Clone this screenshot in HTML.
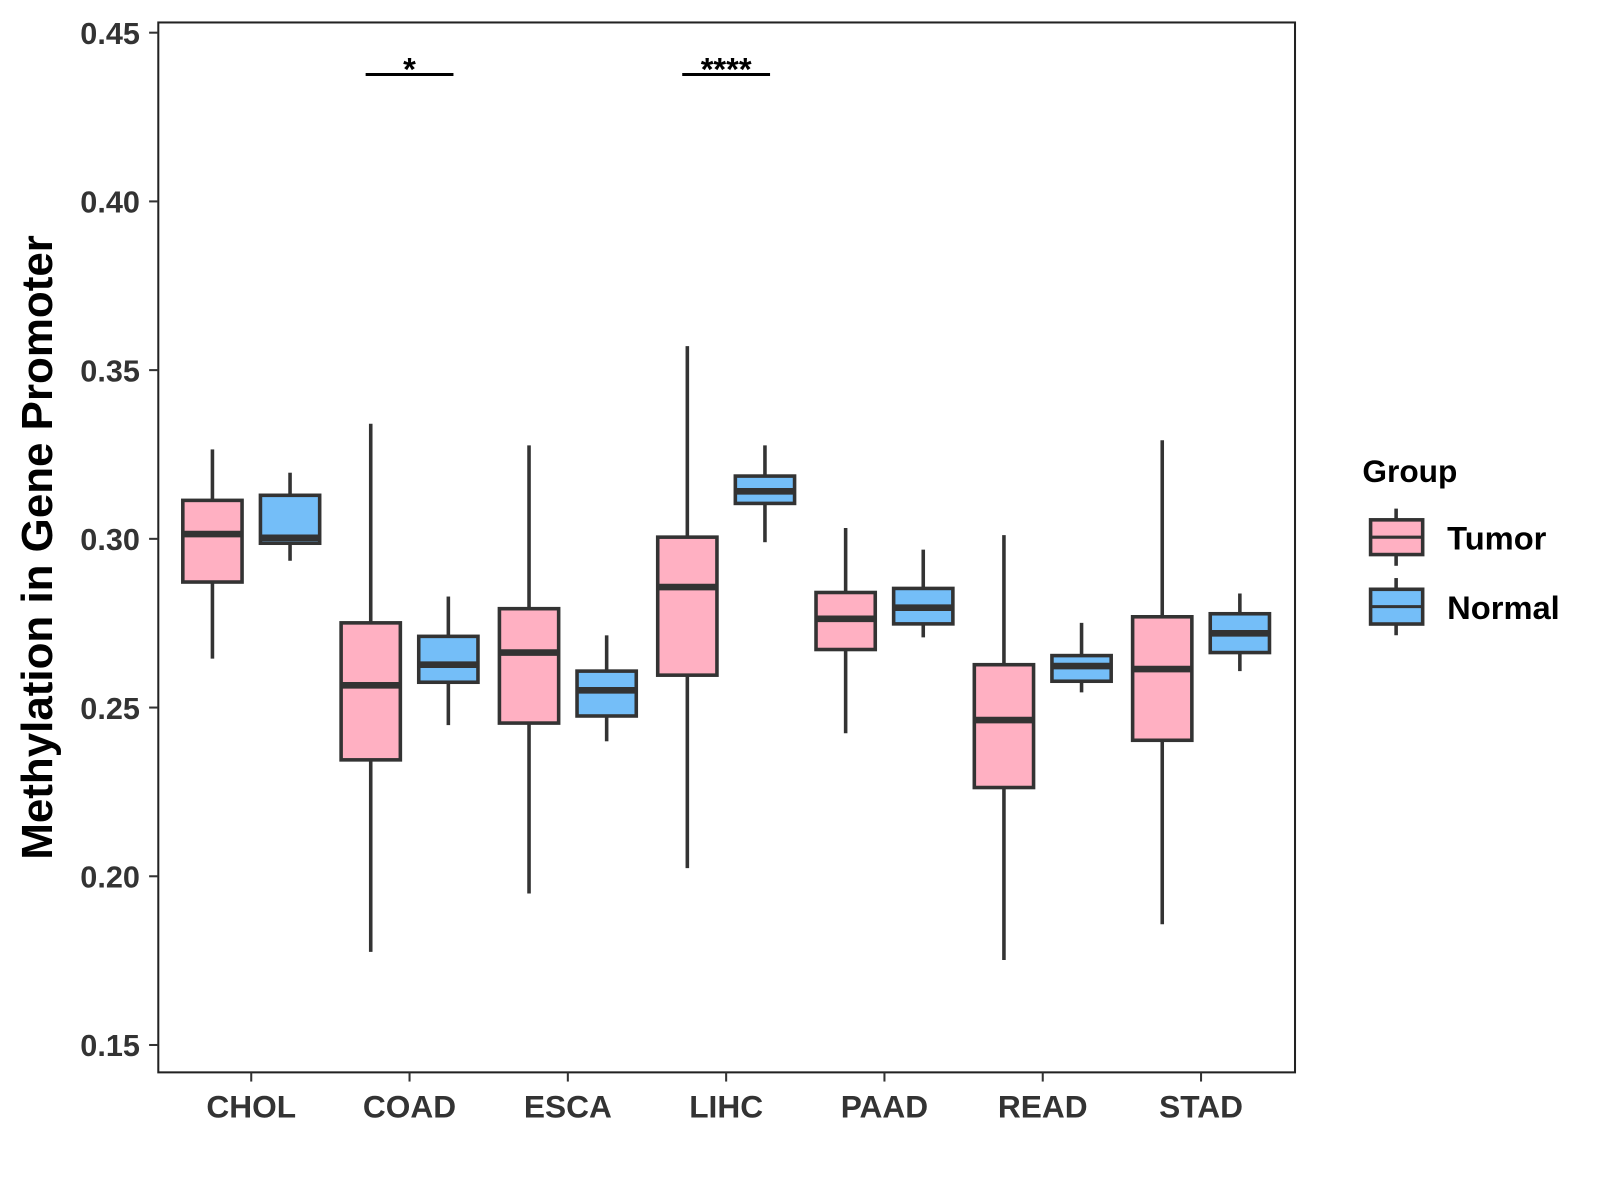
<!DOCTYPE html>
<html><head><meta charset="utf-8"><style>
html,body{margin:0;padding:0;background:#fff;}
svg{display:block;font-family:"Liberation Sans",Arial,sans-serif;}
</style></head><body>
<svg id="chart" width="1600" height="1200" viewBox="0 0 1600 1200">
<g transform="scale(1.0213)">
<rect x="155" y="22" width="1113" height="1028" fill="#fff" stroke="#222" stroke-width="2"/>
<g id="marks"></g>
<g id="axes"></g>
<text transform="translate(51,536) rotate(-90)" text-anchor="middle" font-size="43" font-weight="bold" fill="#000">Methylation in Gene Promoter</text>
<g>
<text x="1334" y="472" font-size="31" font-weight="bold" fill="#000">Group</text>
<g>
<line x1="1367" y1="498" x2="1367" y2="554" stroke="#333" stroke-width="3.5"/>
<rect x="1342" y="509" width="51" height="34" fill="#FFB0C2" stroke="#333" stroke-width="3.5"/>
<line x1="1342" y1="526" x2="1393" y2="526" stroke="#333" stroke-width="3"/>
<text x="1417" y="538" font-size="32" font-weight="bold" fill="#000">Tumor</text>
</g>
<g>
<line x1="1367" y1="566" x2="1367" y2="622" stroke="#333" stroke-width="3.5"/>
<rect x="1342" y="577" width="51" height="34" fill="#74BEF8" stroke="#333" stroke-width="3.5"/>
<line x1="1342" y1="594" x2="1393" y2="594" stroke="#333" stroke-width="3"/>
<text x="1417" y="606" font-size="32" font-weight="bold" fill="#000">Normal</text>
</g>
</g>
</g>
</svg>
<script>
const categories = ["CHOL","COAD","ESCA","LIHC","PAAD","READ","STAD"];
// [low, q1, median, q3, high]
const tumorStats = [
 [0.2645,0.2872,0.3014,0.3114,0.3265],
 [0.1776,0.2345,0.2566,0.2751,0.3341],
 [0.1949,0.2454,0.2663,0.2793,0.3277],
 [0.2024,0.2596,0.2857,0.3005,0.3571],
 [0.2424,0.2672,0.2763,0.2841,0.3032],
 [0.1752,0.2263,0.2463,0.2627,0.3011],
 [0.1858,0.2403,0.2614,0.2769,0.3292]];
const normalStats = [
 [0.2935,0.2987,0.3003,0.3129,0.3196],
 [0.2448,0.2575,0.2627,0.2711,0.2829],
 [0.2400,0.2475,0.2551,0.2608,0.2714],
 [0.2990,0.3105,0.3141,0.3186,0.3277],
 [0.2708,0.2748,0.2796,0.2853,0.2968],
 [0.2545,0.2578,0.2623,0.2654,0.2751],
 [0.2608,0.2663,0.2720,0.2778,0.2838]];
const yTicks = [0.15,0.20,0.25,0.30,0.35,0.40,0.45];
const sigLabels = ["*","****"];
const sigCategories = ["COAD","LIHC"];
const sigLevel = [0.4376,0.4376];

const NS="http://www.w3.org/2000/svg";
const y = v => 32 + (0.45 - v) * 3304;
const x = c => 246 + categories.indexOf(c) * 155;
const marks = document.getElementById('marks');
const axes = document.getElementById('axes');
function mk(tag, attrs, parent){const e=document.createElementNS(NS,tag);for(const k in attrs)e.setAttribute(k,attrs[k]);parent.appendChild(e);return e;}

function drawBox(cx, s, fill, name){
  const g = mk('g',{},marks);
  
  
  const w=58;
  mk('line',{x1:cx,x2:cx,y1:y(s[4]),y2:y(s[3]),stroke:'#333','stroke-width':3.5},g);
  mk('line',{x1:cx,x2:cx,y1:y(s[1]),y2:y(s[0]),stroke:'#333','stroke-width':3.5},g);
  mk('rect',{x:cx-w/2,y:y(s[3]),width:w,height:y(s[1])-y(s[3]),fill:fill,stroke:'#333','stroke-width':3.5},g);
  mk('line',{x1:cx-w/2,x2:cx+w/2,y1:y(s[2]),y2:y(s[2]),stroke:'#333','stroke-width':6.5},g);
}
categories.forEach((c,i)=>{
  drawBox(x(c)-38, tumorStats[i], '#FFB0C2', 'box-tumor-'+c.toLowerCase());
  drawBox(x(c)+38, normalStats[i], '#74BEF8', 'box-normal-'+c.toLowerCase());
  mk('line',{x1:x(c),x2:x(c),y1:1050,y2:1059,stroke:'#333','stroke-width':2},axes);
  const lb = mk('text',{x:x(c),y:1094,'text-anchor':'middle','font-size':31,'font-weight':'bold',fill:'#333'},axes);
  lb.textContent=c;
  
  
});
yTicks.forEach(v=>{
  mk('line',{x1:146,x2:155,y1:y(v),y2:y(v),stroke:'#333','stroke-width':2},axes);
  const lb = mk('text',{x:137,y:y(v)+11,'text-anchor':'end','font-size':30,'font-weight':'bold',fill:'#333'},axes);
  lb.textContent=v.toFixed(2);
  
  
});
sigLabels.forEach((s,i)=>{
  const cx=x(sigCategories[i]);
  const g=mk('g',{},marks);
  
  
  mk('line',{x1:cx-43,x2:cx+43,y1:y(sigLevel[i]),y2:y(sigLevel[i]),stroke:'#000','stroke-width':3},g);
  const t=mk('text',{x:cx,y:y(sigLevel[i])+6,'text-anchor':'middle','font-size':32,'font-weight':'bold',fill:'#000'},g);
  t.textContent=s;
});
</script>
</body></html>
